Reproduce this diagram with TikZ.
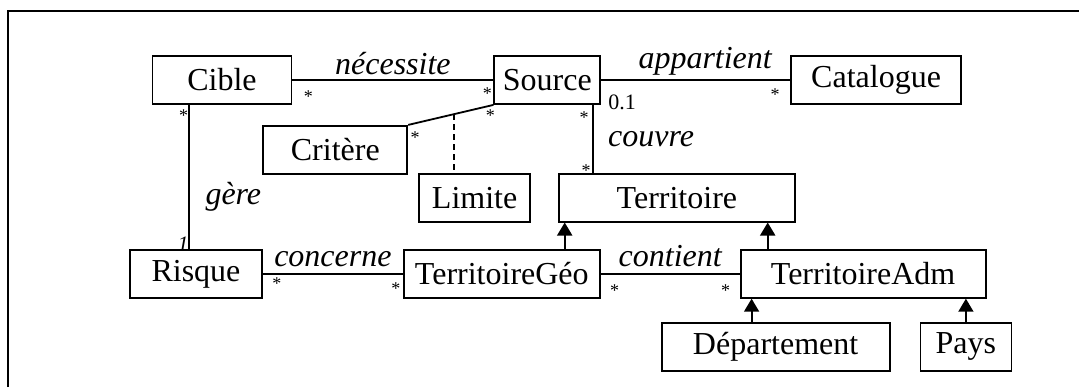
\documentclass[tikz,border=0pt]{standalone}
\usepackage{fontspec}
\setmainfont{Liberation Serif}
\usetikzlibrary{positioning, arrows.meta}

\begin{document}
\begin{tikzpicture}[x=0.5pt, y=-0.5pt,
  font=\fontsize{16}{19}\selectfont,
  class/.style={rectangle, minimum height=24pt, inner sep=2pt, text centered, draw=black, line width=0.9pt},
  assoc/.style={line width=0.9pt},
  gen/.style={-{Triangle[length=6.5pt, width=7.5pt]}, line width=0.9pt},
  role/.style={font=\fontsize{16}{19}\selectfont\itshape, inner sep=2pt},
  mult/.style={font=\fontsize{9}{9}\selectfont, inner sep=0pt},
  card/.style={font=\fontsize{11}{13}\selectfont, inner sep=0pt}]

\useasboundingbox (0,0) rectangle (1079,387);

% Frame
\draw [line width=1pt] (8,387) -- (8,11) -- (1079,11);

% Nodes
\node (cible) [class, minimum width=69.5pt] at (222,80) {Cible};

\node (source) [class, minimum width=53pt, right=100.5pt of cible] {Source};

\node (catalogue) [class, minimum width=85pt, right=94.5pt of source] {Catalogue};

\node (critere) [class, minimum width=72pt, below right=10pt and -15pt of cible] {Critère};

\node (limite) [class, minimum width=55.5pt, below right=-1pt and 5pt of critere] {Limite};

\node (territoire) [class, minimum width=118pt, right=13.5pt of limite] {Territoire};

\node (risque) [class, minimum width=66pt, below=72pt of cible, xshift=-13pt] {Risque};

\node (terrgeo) [class, minimum width=98pt, right=70pt of risque] {TerritoireGéo};

\node (terradm) [class, minimum width=122.5pt, right=69.5pt of terrgeo] {TerritoireAdm};

\node (departement) [class, minimum width=114pt, below=11.5pt of terradm, xshift=-43.75pt] {Département};

\node (pays) [class, minimum width=45.5pt, right=14.5pt of departement] {Pays};

% Associations
\draw [assoc] (cible) -- node[role, above] {nécessite} (source);
\draw [assoc] (source) -- node[role, above, pos=0.55] {appartient} (catalogue);

\draw [assoc] (source.south west) -- coordinate[pos=0.46] (lien) (critere.north east);
\draw [assoc, dash pattern=on 3pt off 2pt] (lien) -- (lien |- limite.north);

\coordinate (cibleBas) at ([xshift=18.5pt]cible.south west);
\draw [assoc] (cibleBas) -- node[role, right=6pt, pos=0.64] {gère} (cibleBas |- risque.north);

\coordinate (sourceBas) at ([xshift=-4pt]source.south east);
\draw [assoc] (sourceBas) -- node[role, right=5pt] {couvre} (sourceBas |- territoire.north);

\draw [assoc] (risque) -- node[role, above=1pt] {concerne} (terrgeo);
\draw [assoc] (terrgeo) -- node[role, above=1pt] {contient} (terradm);

% Generalisations
\coordinate (geoHaut) at ([xshift=-18pt]terrgeo.north east);
\draw [gen] (geoHaut) -- (geoHaut |- territoire.south);

\coordinate (admHaut) at ([xshift=14pt]terradm.north west);
\draw [gen] (admHaut) -- (admHaut |- territoire.south);

\coordinate (depHaut) at ([xshift=-12pt]departement.north);
\draw [gen] (depHaut) -- (depHaut |- terradm.south);

\draw [gen] (pays.north) -- (pays.north |- terradm.south);

% Multiplicities
\node (mCibleN) [mult] at ([shift={(16,17)}]cible.east) {*};
\node (mSourceN) [mult] at ([shift={(-6,14)}]source.west) {*};
\node (mCibleG) [mult] at ([shift={(32,11)}]cible.south west) {*};
\node (mSourceC) [mult] at ([shift={(-3,11)}]source.south west) {*};
\node (mCritere) [mult] at ([shift={(7,13)}]critere.north east) {*};
\node (mSourceV) [mult] at ([shift={(-17,13)}]source.south east) {*};
\node (mTerritoire) [mult] at ([shift={(28,-2)}]territoire.north west) {*};
\node (mCatalogue) [mult] at ([shift={(-15,15)}]catalogue.west) {*};
\node (mRisque) [mult] at ([shift={(14,10)}]risque.east) {*};
\node (mGeoC) [mult] at ([shift={(-7,14.5)}]terrgeo.west) {*};
\node (mGeoA) [mult] at ([shift={(14,16.5)}]terrgeo.east) {*};
\node (mAdm) [mult] at ([shift={(-14,16.5)}]terradm.west) {*};

\node (cSource) [card] at ([shift={(21,22)}]source.east) {0.1};
\node (cRisque) [card, font=\fontsize{11}{13}\selectfont\itshape] at ([shift={(-13,-5)}]risque.north) {1};

\end{tikzpicture}
\end{document}
